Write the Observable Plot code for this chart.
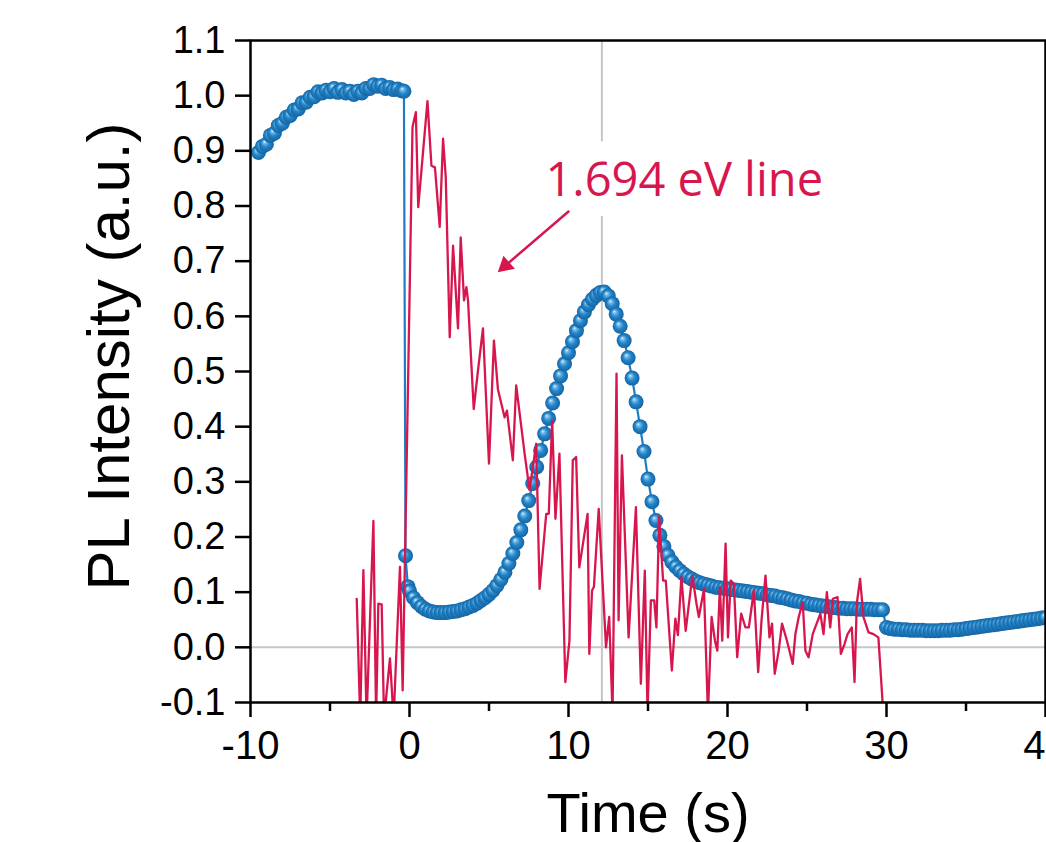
<!DOCTYPE html>
<html><head><meta charset="utf-8">
<script src="https://cdn.jsdelivr.net/npm/d3@7"></script>
<script src="https://cdn.jsdelivr.net/npm/@observablehq/plot@0.6"></script>
<style>html,body{margin:0;padding:0;background:#fff;overflow:hidden}</style>
</head><body><div id="chart"></div>
<script>
// ---- data ----
const blueTime = [
 -9.5,-9.25,-9,-8.75,-8.5,-8.25,-8,-7.75,-7.5,-7.25,-7,-6.75,-6.5,-6.25,-6,-5.75,-5.5,-5.25,-5,-4.75,
 -4.5,-4.25,-4,-3.75,-3.5,-3.25,-3,-2.75,-2.5,-2.25,-2,-1.75,-1.5,-1.25,-1,-0.75,-0.5,-0.35,
 -0.25,-0.1,0,0.25,0.5,0.75,1,1.25,1.5,1.75,2,2.25,2.5,2.75,3,3.25,3.5,3.75,4,4.25,4.5,4.75,
 5,5.25,5.5,5.75,6,6.25,6.5,6.75,7,7.25,7.5,7.75,8,8.25,8.5,8.75,9,9.25,9.5,9.75,
 10,10.25,10.5,10.75,11,11.25,11.5,11.75,12,12.25,12.5,12.75,13,13.25,13.5,13.75,14,14.25,14.5,14.75,
 15,15.25,15.5,15.75,16,16.25,16.5,16.75,17,17.25,17.5,17.75,18,18.25,18.5,18.75,19,19.25,19.5,19.75,
 20,20.25,20.5,20.75,21,21.25,21.5,21.75,22,22.25,22.5,22.75,23,23.25,23.5,23.75,24,24.25,24.5,24.75,
 25,25.25,25.5,25.75,26,26.25,26.5,26.75,27,27.25,27.5,27.75,28,28.25,28.5,28.75,29,29.25,29.5,29.75,
 30,30.25,30.5,30.75,31,31.25,31.5,31.75,32,32.25,32.5,32.75,33,33.25,33.5,33.75,34,34.25,34.5,34.75,
 35,35.25,35.5,35.75,36,36.25,36.5,36.75,37,37.25,37.5,37.75,38,38.25,38.5,38.75,39,39.25,39.5,39.75,40
];
const blueValue = [
 0.897,0.908,0.912,0.928,0.932,0.946,0.95,0.961,0.964,0.974,0.976,0.987,0.988,0.997,0.998,1.007,1.005,1.01,1.007,1.013,
 1.006,1.011,1.005,1.008,1.002,1.008,1.005,1.013,1.013,1.02,1.017,1.019,1.013,1.015,1.011,1.012,1.009,1.008,
 0.166,0.11,0.102,0.09,0.081,0.074,0.069,0.066,0.064,0.063,0.063,0.063,0.064,0.065,0.066,0.068,0.07,0.073,0.076,0.08,0.085,0.09,
 0.096,0.103,0.112,0.123,0.136,0.152,0.17,0.19,0.213,0.238,0.266,0.297,0.327,0.357,0.387,0.415,0.443,0.469,0.492,0.514,
 0.534,0.554,0.574,0.592,0.608,0.621,0.631,0.638,0.643,0.644,0.637,0.623,0.604,0.582,0.556,0.525,0.488,0.445,0.4,0.355,
 0.305,0.264,0.23,0.203,0.183,0.167,0.155,0.146,0.139,0.133,0.128,0.124,0.12,0.117,0.115,0.113,0.111,0.109,0.108,0.107,
 0.106,0.105,0.104,0.103,0.102,0.101,0.1,0.099,0.098,0.097,0.095,0.094,0.093,0.091,0.09,0.088,0.086,0.084,0.083,0.081,
 0.08,0.078,0.077,0.076,0.075,0.074,0.073,0.072,0.071,0.071,0.07,0.07,0.07,0.069,0.069,0.069,0.069,0.068,0.068,0.068,
 0.036,0.034,0.033,0.033,0.032,0.032,0.031,0.031,0.031,0.031,0.03,0.03,0.03,0.03,0.031,0.031,0.031,0.032,0.032,0.033,
 0.034,0.035,0.036,0.037,0.038,0.039,0.04,0.041,0.042,0.043,0.044,0.045,0.046,0.047,0.048,0.049,0.05,0.051,0.052,0.053,0.054
];
const redTime = [
 -3.32,-3.1,-2.9,-2.7,-2.27,-2.1,-1.96,-1.75,-1.6,-1.23,-1.0,-0.6,-0.43,0.19,0.4,0.55,1.13,1.38,1.6,1.9,
 2.11,2.28,2.53,2.74,3.05,3.22,3.43,3.58,3.68,4.04,4.3,4.62,5.0,5.31,5.56,5.98,6.13,6.5,6.71,7.24,
 7.55,7.97,8.18,8.6,8.76,8.97,9.18,9.43,9.8,10.06,10.27,10.48,10.68,11.2,11.31,11.48,11.6,11.9,12.36,12.56,
 12.77,13.02,13.15,13.36,13.78,14.24,14.55,14.8,14.97,15.18,15.39,15.53,15.7,15.95,16.12,16.5,16.72,16.88,17.1,17.37,
 17.79,18.05,18.2,18.52,18.77,19.0,19.21,19.36,19.52,19.67,19.88,20.03,20.2,20.4,20.61,20.86,21.13,21.34,21.66,21.93,
 22.14,22.39,22.64,22.8,22.97,23.22,23.43,23.74,24.1,24.27,24.48,24.73,24.9,25.1,25.36,25.84,26.04,26.25,26.46,26.63,
 26.92,27.13,27.36,27.55,27.82,27.99,28.13,28.34,28.55,28.87,29.18,29.49,29.8
];
const redValue = [
 0.088,-0.13,0.14,-0.13,0.229,-0.13,0.079,0.078,-0.13,-0.02,-0.13,0.146,-0.078,0.943,0.97,0.798,0.99,0.873,0.87,0.762,
 0.922,0.852,0.562,0.728,0.578,0.743,0.629,0.653,0.629,0.432,0.5,0.578,0.333,0.556,0.468,0.417,0.429,0.339,0.475,0.351,
 0.285,0.369,0.106,0.242,0.242,0.411,0.233,0.351,-0.063,0.012,0.339,0.345,0.145,0.242,-0.012,0.103,0.11,0.251,0.0,0.055,
 -0.12,0.496,0.049,0.348,0.018,0.254,-0.066,0.139,-0.12,0.085,0.085,0.036,0.236,0.121,0.121,-0.042,0.052,0.022,0.127,0.03,
 0.13,0.079,0.055,0.106,-0.12,0.055,0.012,-0.006,0.109,0.012,0.188,0.018,0.121,0.115,-0.018,0.061,0.036,0.036,0.103,-0.045,
 0.049,0.13,0.018,0.043,-0.048,-0.006,0.043,0.012,-0.03,0.024,0.055,0.082,-0.006,-0.018,0.024,0.061,0.024,0.1,0.036,0.088,
 0.091,-0.012,0.006,0.024,0.036,-0.063,0.079,0.124,0.055,0.027,0.024,0.018,-0.12
];
const yTicks = [-0.1,0,0.1,0.2,0.3,0.4,0.5,0.6,0.7,0.8,0.9,1.0,1.1];
const xTicks = [-10,0,10,20,30,40];
const xMinorTicks = [-5,5,15,25,35];
const peakTime = [12.1];
const zeroLevel = [0];
const annotationLabel = ["1.694 eV line"];
const annotationPos = {x: 8.55, y: 0.819};
const arrowTail = {x: 10.0, y: 0.79};
const arrowHead = {x: 6.03, y: 0.692};
const xLabel = ["Time (s)"];
const yLabel = ["PL Intensity (a.u.)"];

const blue = blueTime.map((t, i) => ({t, v: blueValue[i]}));
const red = redTime.map((t, i) => ({t, v: redValue[i]}));
const RED = "#d8164e";
const BLUE = "#1e7dc2";
const GRID = "#c6c6c6";

const chart = Plot.plot({
  width: 1046,
  height: 842,
  marginLeft: 250,
  marginRight: 1,
  marginTop: 40,
  marginBottom: 140,
  style: {fontFamily: "'Liberation Sans', Arial, sans-serif", background: "white", color: "black"},
  x: {domain: [-10, 40]},
  y: {domain: [-0.1, 1.1]},
  marks: [
    Plot.ruleY(zeroLevel, {y: d => d, stroke: GRID, strokeWidth: 2}),
    Plot.ruleX(peakTime, {x: d => d, stroke: GRID, strokeWidth: 2}),
    Plot.line(blue, {x: "t", y: "v", stroke: BLUE, strokeWidth: 2.2, clip: true}),
    Plot.dot(blue, {x: "t", y: "v", r: 7.5, fill: "url(#ball)", clip: true}),
    Plot.line(red, {x: "t", y: "v", stroke: RED, strokeWidth: 2.3, clip: true}),
    Plot.text(annotationLabel, {x: () => annotationPos.x, y: () => annotationPos.y, text: d => d,
      textAnchor: "start", lineAnchor: "bottom", fontSize: 47, fontFamily: "'Open Sans', 'Noto Sans', sans-serif",
      fill: RED, stroke: "white", strokeWidth: 40, strokeLinejoin: "round"}),
    Plot.arrow([0], {x1: () => arrowTail.x, y1: () => arrowTail.y, x2: () => arrowHead.x, y2: () => arrowHead.y,
      stroke: RED, strokeWidth: 2.5, headLength: 0}),
    Plot.dot([0], {x: () => arrowHead.x, y: () => arrowHead.y, symbol: "triangle", r: 6.5, rotate: 229, fill: RED}),
    Plot.axisY({ticks: yTicks, tickFormat: d => d.toFixed(1), tickSize: 15, tickPadding: 10, fontSize: 38, strokeWidth: 2.5, label: null}),
    Plot.axisX({ticks: xTicks, tickFormat: d => String(d), tickSize: 15, tickPadding: 13, fontSize: 40, strokeWidth: 2.5, label: null}),
    Plot.axisX({ticks: xMinorTicks, tickFormat: () => "", tickSize: 9, strokeWidth: 2.5, label: null}),
    Plot.frame({stroke: "black", strokeWidth: 2.5}),
    Plot.text(yLabel, {frameAnchor: "left", text: d => d, rotate: -90, textAnchor: "middle", lineAnchor: "bottom",
      dx: -122, dy: -15, fontSize: 60}),
    Plot.text(xLabel, {frameAnchor: "bottom", text: d => d, lineAnchor: "bottom", dy: 129, fontSize: 56})
  ]
});

const defs = document.createElementNS("http://www.w3.org/2000/svg", "defs");
defs.innerHTML = `<radialGradient id="ball" cx="0.5" cy="0.5" r="0.5" fx="0.36" fy="0.32">
  <stop offset="0" stop-color="#e2f3ff"/>
  <stop offset="0.22" stop-color="#72b9e8"/>
  <stop offset="0.55" stop-color="#2385c9"/>
  <stop offset="1" stop-color="#1464a3"/>
</radialGradient>`;
chart.insertBefore(defs, chart.firstChild);
document.getElementById("chart").appendChild(chart);
</script>
</body></html>
